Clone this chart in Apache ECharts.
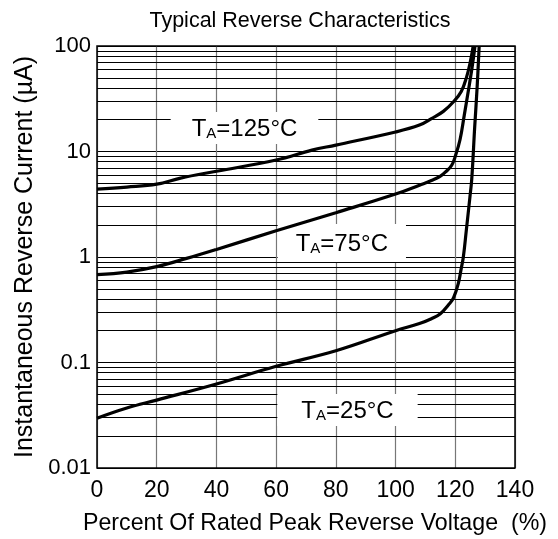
<!DOCTYPE html>
<html>
<head>
<meta charset="utf-8">
<script src="https://cdn.jsdelivr.net/npm/echarts@6/dist/echarts.min.js"></script>
<style>html,body{margin:0;padding:0;background:#fff;}#c{width:558px;height:539px;}</style>
</head>
<body>
<div id="c"></div>
<script>
// Data (x: % of rated peak reverse voltage, y: µA)
const t125 = [[0,4.4],[10,4.6],[20,4.9],[28,5.6],[40,6.5],[60,8.3],[72,10.3],[80,11.5],[100,15.3],[108,17.8],[112,20.5],[116,24],[119.4,29.6],[122,37],[123.8,51],[125,70],[126,100]];
const t75 = [[0,0.68],[10,0.72],[20,0.81],[30,0.97],[40,1.18],[60,1.77],[80,2.63],[100,3.95],[108,4.8],[112,5.3],[114.9,5.8],[117,6.5],[118.8,7.4],[120,9],[121.6,13],[123,22],[124.4,38],[125.6,62],[126.6,100]];
const t25 = [[0,0.0296],[10,0.037],[20,0.044],[40,0.0625],[60,0.092],[80,0.129],[100,0.2],[108,0.234],[112,0.26],[115,0.29],[118,0.36],[119.4,0.41],[121,0.56],[122,0.78],[122.7,1.0],[123.7,1.8],[124.9,3.7],[125.5,5.4],[126.5,17],[127.3,40],[128,100]];
const minorGrid = [0.02,0.03,0.04,0.05,0.06,0.07,0.08,0.09,0.2,0.3,0.4,0.5,0.6,0.7,0.8,0.9,2,3,4,5,6,7,8,9,20,30,40,50,60,70,80,90];
const labelTemps = ['125','75','25'];
const labelX = [49.4, 82.0, 83.9];
const labelY = [16.7, 1.36, 0.0355];
const labelPad = [[3,21,3,21],[6,18,6,18],[3,24,3,24]];

const chart = echarts.init(document.getElementById('c'), null, {renderer:'canvas'});
const FONT = 'Liberation Sans, Arial, sans-serif';
function curve(name, data){
  return {name, type:'line', data, smooth:0.4, showSymbol:false, symbol:'none', z:10,
    lineStyle:{color:'#000', width:3.2}, clip:true, silent:true};
}
chart.setOption({
  animation:false,
  backgroundColor:'#fff',
  title:{text:'Typical Reverse Characteristics', left:295, top:5, textAlign:'center',
    textStyle:{fontFamily:FONT, fontSize:21.5, fontWeight:'normal', color:'#000'}},
  grid:{left:97, right:43, top:46, bottom:71, show:true, borderColor:'#000', borderWidth:1.5, z:20,
    containLabel:false, outerBoundsMode:'none'},
  xAxis:{type:'value', min:0, max:140, interval:20,
    axisLine:{show:false}, axisTick:{show:false},
    axisLabel:{fontFamily:FONT, fontSize:23, color:'#000', margin:11},
    splitLine:{show:true, lineStyle:{color:'#777', width:1.2}},
    name:'Percent Of Rated Peak Reverse Voltage  (%)', nameLocation:'middle', nameGap:44,
    nameTextStyle:{fontFamily:FONT, fontSize:23.2, color:'#000', padding:[0,0,0,18]}},
  yAxis:{type:'log', logBase:10, min:0.01, max:100,
    axisLine:{show:false}, axisTick:{show:false},
    axisLabel:{fontFamily:FONT, fontSize:22, color:'#000', margin:6,
      formatter:v=>{const m={0.01:'0.01',0.1:'0.1',1:'1',10:'10',100:'100'}; return m[v]!==undefined?m[v]:String(v);}},
    splitLine:{show:true, lineStyle:{color:'#000', width:1}},
    name:'Instantaneous Reverse Current (µA)', nameLocation:'middle', nameGap:56,
    nameTextStyle:{fontFamily:FONT, fontSize:25, color:'#000'}},
  series:[
    {name:'grid', type:'line', data:[], z:1, silent:true,
      markLine:{silent:true, symbol:['none','none'], label:{show:false}, animation:false,
        lineStyle:{color:'#000', width:1, type:'solid'},
        data: minorGrid.map(v=>({yAxis:v}))}},
    {name:'labels', type:'scatter', data:[], z:5, silent:true,
      markPoint:{silent:true, symbol:'rect', symbolSize:0, animation:false,
        data: labelTemps.map((t,i)=>({coord:[labelX[i],labelY[i]], value:t, label:{padding:labelPad[i]}})),
        label:{show:true, position:'inside', backgroundColor:'#fff',
          formatter:p=>'{t|T}{s|A}{t|='+p.value+'°C}',
          rich:{t:{fontFamily:FONT, fontSize:24, color:'#000', verticalAlign:'bottom', lineHeight:26},
                s:{fontFamily:FONT, fontSize:15, color:'#000', verticalAlign:'bottom', lineHeight:20}}}}},
    curve('125', t125),
    curve('75', t75),
    curve('25', t25)
  ]
});
</script>
</body>
</html>
